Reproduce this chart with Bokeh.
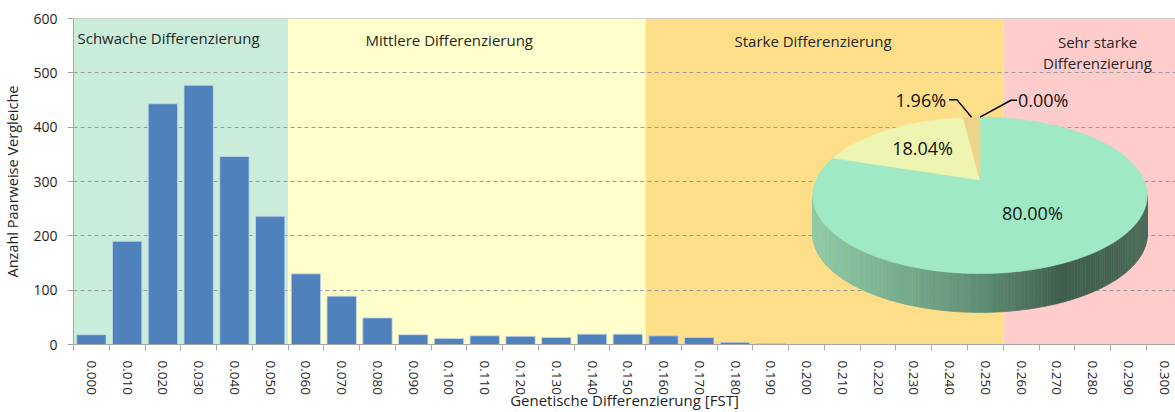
import numpy as np
from bokeh.plotting import figure
from bokeh.models import Range1d, LinearAxis, FixedTicker, Span, Grid
from bokeh.core.properties import value
from bokeh.embed import file_html
from bokeh.resources import INLINE

# ---------------- data ----------------
fst_labels = ["0.000", "0.010", "0.020", "0.030", "0.040", "0.050", "0.060", "0.070",
              "0.080", "0.090", "0.100", "0.110", "0.120", "0.130", "0.140", "0.150",
              "0.160", "0.170", "0.180", "0.190", "0.200", "0.210", "0.220", "0.230",
              "0.240", "0.250", "0.260", "0.270", "0.280", "0.290", "0.300"]
counts = [18, 190, 443, 477, 346, 236, 130, 89, 49, 18, 11, 16, 15, 13, 19, 19,
          16, 13, 4, 2, 0, 0, 0, 0, 0, 0, 0, 0, 0, 0, 0]
y_ticks = [0, 100, 200, 300, 400, 500, 600]

class_first_bin = ["0.000", "0.060", "0.160", "0.260"]
class_colors = ["#C9EDDA", "#FFFFCC", "#FFDE8A", "#FFCCCC"]
class_text_lines = ["Schwache Differenzierung", "Mittlere Differenzierung",
                    "Starke Differenzierung", "Sehr starke", "Differenzierung"]

pie_shares = [80.00, 18.04, 1.96, 0.00]
pie_labels = ["80.00%", "18.04%", "1.96%", "0.00%"]
pie_colors = ["#A0E9C5", "#EDF5B0", "#EED38A", "#F4B0B0"]

x_title = "Genetische Differenzierung [FST]"
y_title = "Anzahl Paarweise Vergleiche"

# ---------------- style / layout ----------------
FONT = "Open Sans"
TXT = "#1E1E1E"
GRAY = "#A6A6A6"
W, H = 1175, 412
ML, MT, MB = 73, 18, 67
CAT_PX = 35.76
frame_w = W - ML
frame_h = H - MT - MB
x_end = -0.5 + frame_w / CAT_PX
# page-pixel helper ranges
PX0, PX1, PY_BOT, PY_TOP = ML, ML + frame_w, MT + frame_h, MT

p = figure(width=W, height=H, output_backend="svg", toolbar_location=None,
           x_range=Range1d(-0.5, x_end), y_range=Range1d(0, 600),
           x_axis_type=None, y_axis_type=None,
           min_border_left=ML, min_border_right=0, min_border_top=MT, min_border_bottom=MB)
p.outline_line_color = None
p.background_fill_color = "white"
p.extra_x_ranges = {"px": Range1d(PX0, PX1)}
p.extra_y_ranges = {"py": Range1d(PY_BOT, PY_TOP)}

# class bands
idx = {lab: i for i, lab in enumerate(fst_labels)}
starts = [idx[b] - 0.5 for b in class_first_bin]
ends = starts[1:] + [len(fst_labels) + 1]
p.quad(left=starts, right=ends, bottom=0, top=600, fill_color=class_colors,
       line_color=None, level="image")

# grid
p.add_layout(Grid(dimension=1, ticker=FixedTicker(ticks=y_ticks[1:-1]),
                  grid_line_color="#9A9A9A", grid_line_dash="4 3", grid_line_width=1))
p.add_layout(Span(location=600, dimension="width", line_color=GRAY, line_width=1))

# bars
p.vbar(x=list(range(len(fst_labels))), top=counts, width=0.82,
       fill_color="#4F81BD", line_color="#C5D5EA", line_width=0.8)

# axes
yax = LinearAxis(ticker=FixedTicker(ticks=y_ticks),
                 axis_label=y_title,
                 axis_line_color=GRAY, major_tick_line_color=GRAY,
                 major_tick_out=6, major_tick_in=0, minor_tick_out=0, minor_tick_in=0,
                 major_label_standoff=10, axis_label_standoff=8,
                 major_label_text_font=FONT, major_label_text_font_size="14px",
                 major_label_text_color=TXT,
                 axis_label_text_font=FONT, axis_label_text_font_size="14.5px",
                 axis_label_text_font_style="normal", axis_label_text_color=TXT)
p.add_layout(yax, "left")

xax = LinearAxis(ticker=FixedTicker(ticks=list(range(len(fst_labels))),
                                    minor_ticks=[i - 0.5 for i in range(len(fst_labels) + 1)]),
                 major_label_overrides={i: lab for i, lab in enumerate(fst_labels)},
                 major_label_orientation="vertical",
                 axis_label=x_title,
                 axis_line_color=GRAY, minor_tick_line_color=GRAY,
                 major_tick_out=0, major_tick_in=0, minor_tick_out=6, minor_tick_in=0,
                 major_label_standoff=10, axis_label_standoff=-8,
                 major_label_text_font=FONT, major_label_text_font_size="13.5px",
                 major_label_text_color=TXT,
                 axis_label_text_font=FONT, axis_label_text_font_size="15px",
                 axis_label_text_font_style="normal", axis_label_text_color=TXT)
p.add_layout(xax, "below")

# class labels (page-pixel positions)
lab_x = [77, 365, 734, 1097, 1097]
lab_y = [38, 40, 40.5, 42, 63]
lab_al = ["left", "left", "left", "center", "center"]
p.text(x=lab_x, y=lab_y, text=class_text_lines, text_align=lab_al,
       text_baseline="alphabetic", text_font=value(FONT), text_font_size="15px",
       text_color="#262626", x_range_name="px", y_range_name="py")

# ---------------- 3D pie (perspective ellipse, page pixels) ----------------
cx, cy, A, K, D, DEPTH = 979.5, 180.0, 164.0, 383.0, 5.08, 39.0


def proj(theta_deg, r=1.0, drop=0.0):
    t = np.radians(theta_deg)
    X, Z = r * np.cos(t), r * np.sin(t)
    return cx + A * X * D / (D + Z), cy - K * Z / (D + Z) + drop


# side band with horizontal shading
th = np.linspace(-200, 20, 2201)
xx, _ = proj(th)
mask = th < -90
th_left = th[mask][np.argmin(xx[mask])]
th_right = th[~mask][np.argmax(xx[~mask])]
x_left, _ = proj(th_left)
x_right, _ = proj(th_right)
stops_t = [0.0, 0.2, 0.5, 0.75, 1.0]
stops_c = [(0x8F, 0xCB, 0xA7), (0x7D, 0xB5, 0x95), (0x5F, 0x8E, 0x75), (0x3F, 0x5E, 0x4D), (0x4A, 0x6B, 0x58)]


def shade(xv):
    t = (xv - x_left) / (x_right - x_left)
    rgb = [np.interp(t, stops_t, [c[k] for c in stops_c]) for k in range(3)]
    return "#%02x%02x%02x" % tuple(int(round(v)) for v in rgb)


n_strips = 160
edges = np.linspace(th_left, th_right, n_strips + 1)
sxs, sys, scs = [], [], []
for a0, a1 in zip(edges[:-1], edges[1:]):
    x0, y0 = proj(a0)
    x1, y1 = proj(a1)
    x0b, y0b = proj(a0, drop=DEPTH)
    x1b, y1b = proj(a1, drop=DEPTH)
    sxs.append([x0, x1, x1b, x0b])
    sys.append([y0, y1, y1b, y0b])
    scs.append(shade((x0 + x1) / 2))
p.patches(xs=sxs, ys=sys, fill_color=scs, line_color=scs, line_width=0.6,
          x_range_name="px", y_range_name="py")

# top slices: start at 12 o'clock, clockwise
start = 90.0
txs, tys, tcs, mids = [], [], [], []
for share, col in zip(pie_shares, pie_colors):
    sweep = 360.0 * share / 100.0
    if sweep > 0:
        arc = np.linspace(start, start - sweep, max(4, int(sweep * 2)))
        ax, ay = proj(arc)
        txs.append([cx] + list(ax))
        tys.append([cy] + list(ay))
        tcs.append(col)
    mids.append(start - sweep / 2)
    start -= sweep
p.patches(xs=txs, ys=tys, fill_color=tcs, line_color=tcs, line_width=0.5,
          x_range_name="px", y_range_name="py")

# inside labels
in_r = [0.5, 0.6]
for i in range(2):
    lx, ly = proj(mids[i], r=in_r[i])
    p.text(x=[lx], y=[ly], text=[pie_labels[i]], text_align="center", text_baseline="middle",
           text_font=value(FONT), text_font_size="18px", text_color="#111111",
           x_range_name="px", y_range_name="py")

# outside labels with leader lines
lead_dx = [-14.5, 31.0]
lead_dy = [-17.5, -17.0]
lead_h = [-8.0, 6.0]
for j, i in enumerate([2, 3]):
    rx, ry = proj(mids[i])
    ex, ey = rx + lead_dx[j], ry + lead_dy[j]
    hx = ex + lead_h[j]
    p.line(x=[rx, ex, hx], y=[ry, ey, ey], line_color="black", line_width=1.5,
           x_range_name="px", y_range_name="py")
    p.text(x=[hx + (-3 if lead_h[j] < 0 else 1)], y=[ey], text=[pie_labels[i]],
           text_align="right" if lead_h[j] < 0 else "left", text_baseline="alphabetic",
           text_font=value(FONT), text_font_size="18px", text_color="#111111",
           x_range_name="px", y_range_name="py")

open("out.html", "w").write(file_html(p, INLINE))
